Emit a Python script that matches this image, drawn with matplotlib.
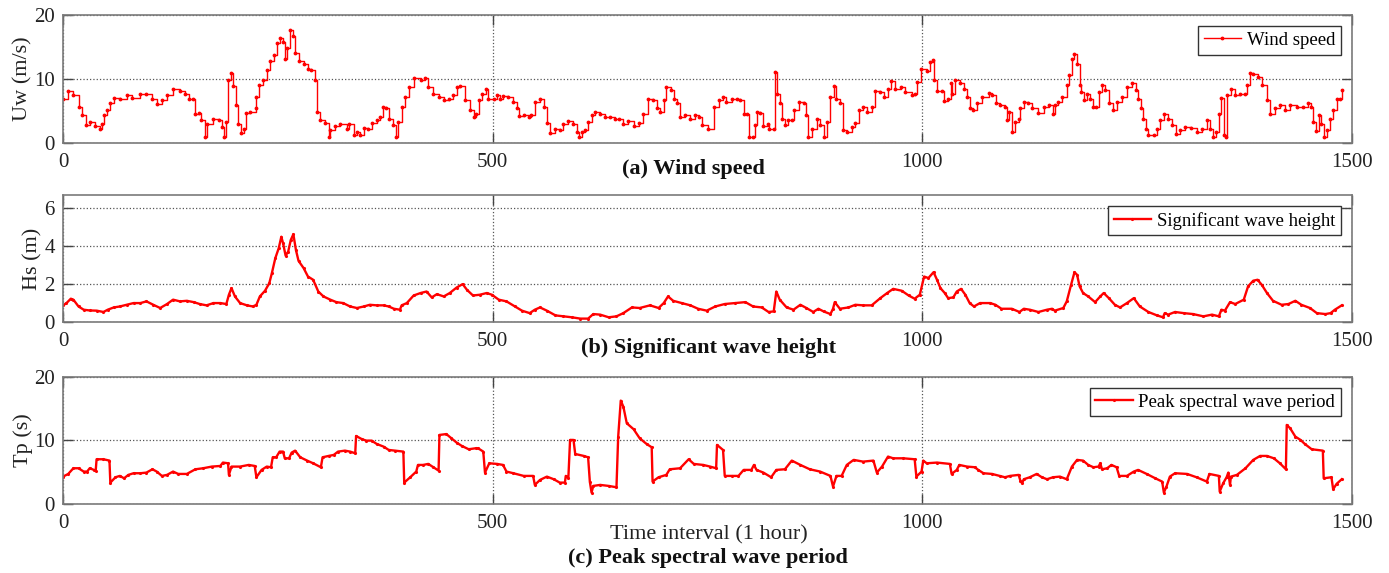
import matplotlib
matplotlib.use('Agg')
import matplotlib.pyplot as plt

plt.rcParams['font.family'] = ['Liberation Serif', 'DejaVu Serif']

# Wind speed (m/s)
wind_t = [0, 6, 12, 18, 22, 27, 31, 37, 43, 45, 48, 51, 55, 59, 66, 74, 80, 90, 97, 103, 109, 115, 121, 128, 136, 142,
          146, 151, 154, 158, 161, 165, 168, 175, 181, 185, 187, 190, 192, 195, 198, 201, 204, 207, 210, 213, 218, 224,
          225, 228, 233, 237, 241, 245, 249, 253, 256, 258, 261, 264, 267, 270, 274, 280, 285, 289, 293, 296, 299, 305,
          309, 311, 317, 322, 330, 333, 338, 342, 346, 350, 355, 359, 365, 369, 372, 376, 379, 384, 387, 390, 394, 398,
          402, 408, 416, 421, 425, 431, 437, 443, 449, 454, 459,
          462, 468, 474, 478, 481, 484, 488, 492, 495, 501, 505, 508, 512, 518, 524, 528, 531, 536, 542, 545, 549, 555,
          560, 563, 567, 573, 578, 582, 588, 593, 598, 600, 604, 607, 611, 615, 619, 625, 631, 637, 642, 647, 652, 658,
          664, 670, 675, 681, 687, 691, 695, 699, 702, 707, 711, 714, 718, 724, 730, 735, 740, 744, 751, 757, 763, 768,
          772, 778, 784, 788, 792, 796, 798, 803, 805, 808, 811, 815, 820, 822, 827, 829, 831, 834, 837, 840, 844, 848,
          851, 856, 862, 865, 867, 871, 877, 881, 885, 889, 893, 897, 900, 904, 908, 912, 918, 922, 926, 931, 936, 941,
          945, 951, 955, 960, 963, 968, 975, 980, 988, 991, 994, 998,
          1005, 1009, 1012, 1014, 1017, 1023, 1025, 1030, 1033, 1035, 1038, 1044, 1048, 1052, 1055, 1059, 1063, 1069,
          1077, 1081, 1086, 1090, 1096, 1099, 1101, 1104, 1108, 1112, 1114, 1118, 1123, 1127, 1135, 1141, 1147, 1152,
          1154, 1158, 1163, 1168, 1171, 1174, 1177, 1180, 1183, 1185, 1188, 1191, 1195, 1198, 1202, 1205, 1209, 1213,
          1217, 1222, 1226, 1232, 1238, 1244, 1248, 1251, 1254, 1257, 1260, 1263, 1269, 1273, 1277, 1281, 1286, 1290,
          1295, 1300, 1306, 1313, 1319, 1325, 1331, 1335, 1338, 1342, 1345, 1348, 1351, 1353, 1355, 1359, 1364, 1370,
          1376, 1378, 1381, 1385, 1390, 1395, 1401, 1405, 1410, 1416, 1422, 1428, 1436, 1443, 1449, 1452, 1455, 1458,
          1461, 1464, 1467, 1471, 1474, 1478, 1482, 1486, 1488]
wind_v = [6.9, 8.2, 7.5, 5.6, 4.3, 2.8, 3.3, 2.6, 2.2, 2.9, 4.3, 5.1, 6.2, 7.1, 6.9, 7.5, 7.1, 7.6, 7.7, 6.8, 6.1, 6.7,
          7.5, 8.5, 8.1, 7.7, 6.9, 6.8, 4.6, 4.7, 3.6, 1.0, 3.0, 3.8, 3.6, 2.5, 1.0, 3.3, 9.8, 11.0, 8.9, 5.9, 3.0, 1.5,
          2.2, 4.7, 4.8, 5.4, 7.2, 9.0, 9.9, 11.4, 12.8, 13.7, 15.6, 16.4, 15.8, 13.2, 14.8, 17.6, 16.7, 14.0, 12.8,
          12.4, 11.6, 11.4, 9.8, 4.9, 3.6, 3.1, 1.0, 2.0, 2.6, 2.9, 2.2, 3.0, 1.2, 1.7, 1.2, 2.4, 2.2, 3.1, 3.6, 4.1,
          5.7, 5.4, 3.8, 2.8, 1.0, 3.3, 5.6, 7.2, 8.8, 10.1, 9.9, 10.1, 8.8, 7.7, 7.2, 6.7, 6.9, 7.5, 8.7,
          8.9, 6.7, 5.1, 4.0, 4.6, 6.7, 7.7, 8.4, 6.8, 6.9, 7.5, 6.8, 7.3, 7.2, 6.4, 5.4, 4.2, 4.3, 4.0, 4.3, 6.4, 6.8,
          5.6, 3.1, 1.6, 2.2, 2.1, 2.9, 3.4, 2.9, 1.7, 1.0, 1.7, 2.0, 3.3, 4.3, 4.9, 4.6, 4.1, 4.1, 3.8, 3.8, 3.0, 3.4,
          2.6, 3.1, 4.6, 6.9, 6.7, 5.5, 4.9, 6.7, 8.8, 8.3, 6.9, 6.2, 4.1, 4.3, 3.8, 4.3, 4.1, 2.8, 2.2, 5.6, 6.7, 7.2,
          6.4, 6.9, 6.9, 6.7, 4.6, 4.5, 1.0, 1.0, 2.8, 4.9, 4.7, 2.6, 2.9, 2.2, 2.2, 11.1, 7.7, 6.2, 3.8, 2.8, 3.6, 3.6,
          5.1, 6.4, 6.2, 4.3, 1.0, 2.2, 3.7, 2.8, 1.0, 3.3, 7.2, 8.9, 6.9, 6.2, 2.0, 1.7, 2.5, 3.1, 5.1, 5.6, 4.9, 5.7,
          8.1, 8.0, 7.2, 8.4, 9.7, 8.4, 8.8, 8.0, 7.5, 7.6, 9.6, 11.5,
          11.3, 12.7, 13.0, 9.9, 8.1, 8.1, 6.6, 6.8, 9.3, 7.7, 9.8, 9.3, 8.5, 7.2, 5.4, 5.1, 6.3, 7.2,
          7.8, 7.5, 6.2, 5.9, 5.7, 3.6, 4.9, 1.7, 3.3, 3.8, 5.4, 6.4, 6.3, 5.4, 4.7, 5.7, 5.9, 4.5,
          5.9, 6.4, 7.2, 9.0, 10.6, 13.2, 13.9, 12.4, 9.0, 8.0, 6.7, 7.7, 6.9, 5.6, 5.6, 8.0, 9.0, 8.3,
          6.2, 5.1, 6.4, 7.2, 8.7, 9.3, 8.3, 6.9, 5.5, 3.8, 2.2, 1.2, 1.2, 2.2, 3.6, 4.6, 3.8, 2.8,
          1.4, 2.0, 2.5, 2.4, 1.7, 2.2, 3.6, 2.2, 1.0, 1.7, 4.6, 7.1, 1.2, 1.0, 7.5, 8.4, 7.5, 7.6,
          7.7, 9.0, 10.9, 10.8, 10.3, 9.0, 6.7, 4.6, 5.4, 5.9, 5.1, 5.9, 5.7, 5.6, 6.3, 5.6, 3.3, 1.9,
          4.3, 3.0, 1.0, 2.0, 3.8, 5.1, 6.8, 6.8, 8.3]

# Significant wave height (m)
hs_t = [0, 4, 9, 12, 18, 24, 31, 39, 47, 52, 59, 66, 74, 82, 90, 97, 105, 113, 121, 128, 136, 144, 152, 159, 167, 175,
        183, 190, 193, 196, 200, 206, 214, 221, 225, 229, 235, 240, 243, 247, 251, 254, 256, 259, 262, 265, 268, 271,
        274, 280, 285, 291, 297, 303, 311, 318, 326, 334, 342, 350, 357, 365, 373, 379, 385, 392, 394, 400, 408, 416,
        423, 429, 435, 443, 450, 458, 465, 470, 477,
        485, 493, 499, 507, 516, 526, 534, 543, 549, 555, 563, 573, 582, 592, 602, 611, 617, 625, 635, 644, 652, 662,
        671, 683, 693, 699, 704, 710, 720, 730, 739, 749, 759, 770, 782, 794, 803, 813, 821, 827, 830, 834, 842, 850,
        858, 865, 873, 879, 885, 893, 896, 898, 904, 914, 922, 931, 941, 951, 959, 966, 976, 984, 991, 997,
        1002, 1007, 1013, 1017, 1021, 1026, 1030, 1036, 1040, 1045, 1050, 1055, 1060, 1067, 1079, 1085, 1092, 1104,
        1113, 1118, 1125, 1135, 1145, 1151, 1154, 1164, 1168, 1173, 1177, 1180, 1183, 1187, 1193, 1201, 1207, 1211,
        1217, 1224, 1230, 1238, 1246, 1253, 1263, 1273, 1280, 1282, 1286, 1294, 1304, 1315, 1327, 1337, 1345, 1348,
        1352, 1358, 1364, 1374, 1379, 1385, 1390, 1395, 1401, 1408, 1418, 1426, 1434, 1441, 1451, 1459, 1469, 1475,
        1480, 1488]
hs_v = [0.88, 1.0, 1.23, 1.18, 0.82, 0.65, 0.61, 0.6, 0.53, 0.65, 0.77, 0.82, 0.91, 1.0, 1.0, 1.09, 0.91, 0.74, 0.95,
        1.18, 1.09, 1.12, 1.05, 0.95, 0.88, 1.0, 1.0, 0.95, 1.44, 1.79, 1.35, 1.0, 0.88, 0.82, 0.91, 1.35, 1.65, 2.05,
        2.58, 3.37, 3.9, 4.5, 4.16, 3.5, 3.72, 4.33, 4.63, 3.8, 3.23, 2.84, 2.4, 2.23, 1.61, 1.35, 1.18, 1.05, 1.0,
        0.82, 0.74, 0.82, 0.91, 0.88, 0.88, 0.82, 0.7, 0.65, 0.88, 1.0, 1.4, 1.53, 1.61, 1.3, 1.47, 1.35, 1.53, 1.82,
        2.0, 1.7, 1.4,
        1.44, 1.53, 1.44, 1.18, 1.09, 0.82, 0.6, 0.47, 0.65, 0.77, 0.6, 0.35, 0.3, 0.25, 0.18, 0.18, 0.42, 0.39, 0.25,
        0.3, 0.47, 0.77, 0.74, 0.88, 0.74, 1.0, 1.35, 1.12, 1.0, 0.88, 0.7, 0.6, 0.82, 0.95, 1.0, 1.05, 0.82, 0.77,
        0.53, 0.56, 1.61, 1.18, 0.77, 0.65, 0.91, 0.74, 0.53, 0.7, 0.56, 0.42, 0.7, 1.05, 0.7, 0.77, 0.91, 0.88, 0.88,
        1.26, 1.53, 1.75, 1.65, 1.4, 1.23, 1.44,
        2.4, 2.32, 2.63, 2.23, 1.79, 1.53, 1.26, 1.3, 1.61, 1.75, 1.44, 1.0, 0.82, 1.0, 1.0, 0.91, 0.7, 0.7,
        0.53, 0.7, 0.65, 0.53, 0.65, 0.7, 0.6, 0.74, 1.09, 1.96, 2.63, 2.49, 1.88, 1.53, 1.35, 1.05, 1.35, 1.53,
        1.26, 0.91, 0.77, 1.0, 1.26, 0.82, 0.53, 0.35, 0.25, 0.47, 0.39, 0.53, 0.47, 0.42, 0.3, 0.39, 0.3, 0.65,
        0.6, 1.05, 0.95, 1.18, 1.88, 2.18, 2.23, 1.96, 1.53, 1.12, 0.91, 0.95, 1.12, 0.91, 0.74, 0.47, 0.42, 0.47,
        0.65, 0.88]

# Peak spectral wave period (s)
tp_t = [0, 6, 12, 18, 24, 28, 31, 36, 38, 39, 47, 54, 55, 61, 66, 71, 76, 82, 90, 97, 104, 109, 115, 121, 128, 134,
        144, 154, 163, 173, 183, 186, 192, 193, 196, 206, 216, 223, 225, 231, 237, 242, 244, 248, 252, 256, 258, 263,
        266, 270, 276, 284, 291, 300, 302, 309, 315, 320, 328, 334, 340, 341, 348, 353, 359, 365, 373, 379, 386, 396,
        397, 404, 411, 413, 419, 425, 431, 437, 438, 446, 452, 458, 464, 472, 480,
        483, 489, 491, 496, 505, 512, 516, 524, 536, 547, 549, 555, 563, 571, 578, 584, 585, 588, 590, 594, 596, 606,
        611, 613, 615, 617, 625, 635, 644, 646, 649, 652, 656, 664, 671, 679, 685, 686, 693, 702, 706, 718, 728, 734,
        745, 753, 760, 761, 768, 770, 778, 786, 792, 801, 804, 807, 815, 824, 830, 840, 848, 858, 869, 881, 893, 896,
        900, 906, 912, 920, 931, 943, 947, 953, 960, 966, 978, 991, 993, 999,
        1001, 1005, 1017, 1032, 1034, 1040, 1043, 1052, 1061, 1065, 1071, 1081, 1090, 1096, 1102, 1112, 1114, 1116,
        1118, 1125, 1133, 1139, 1145, 1152, 1160, 1168, 1174, 1180, 1187, 1193, 1199, 1205, 1207, 1209, 1215, 1220,
        1226, 1229, 1238, 1246, 1251, 1261, 1271, 1279, 1281, 1284, 1288, 1294, 1308, 1319, 1331, 1334, 1345, 1346,
        1350, 1354, 1356, 1358, 1359, 1366, 1376, 1385, 1393, 1401, 1409, 1416, 1423, 1424, 1428, 1434, 1440, 1445,
        1453, 1466, 1467, 1476, 1478, 1482, 1488]
tp_v = [4.33, 4.75, 5.64, 5.64, 5.12, 5.12, 5.64, 5.38, 5.27, 7.05, 7.05, 6.84, 3.39, 4.23, 4.44, 4.07, 4.6, 4.86,
        4.86, 4.96, 5.48, 5.12, 4.44, 4.6, 5.12, 4.75, 4.75, 5.48, 5.64, 5.9, 6.0, 6.53, 6.42, 4.6, 5.9, 5.9, 6.16,
        6.0, 4.23, 5.38, 5.9, 5.8, 7.36, 7.36, 8.25, 8.25, 7.2, 7.2, 8.09, 8.4, 7.36, 6.84, 6.42, 5.8, 7.36, 7.57,
        7.73, 8.25, 8.4, 8.25, 7.99, 10.7, 10.18, 9.97, 9.97, 9.45, 9.03, 8.51, 8.4, 8.25, 3.39, 4.23, 5.12, 6.16,
        6.16, 6.32, 5.8, 5.27, 10.86, 11.0, 10.34, 9.66, 9.14, 8.62, 8.77,
        8.77, 8.25, 4.96, 6.42, 6.32, 6.16, 5.12, 4.86, 4.44, 4.44, 3.03, 3.81, 4.33, 3.92, 3.39, 3.39, 4.44, 4.07,
        10.08, 10.08, 7.88, 7.57, 7.36, 3.55, 1.83, 2.87, 3.03, 2.87, 2.66, 10.6, 16.24, 15.3, 12.69, 11.75, 10.34,
        9.45, 8.93, 3.55, 4.23, 4.6, 5.48, 5.64, 7.05, 6.32, 6.16, 5.9, 5.64, 9.3, 8.51, 4.44, 4.44, 4.44, 5.38,
        5.38, 6.16, 5.38, 4.96, 4.23, 5.38, 5.48, 6.84, 6.16, 5.48, 5.12, 4.44, 2.77, 4.44, 4.44, 6.16, 6.95, 6.68,
        6.84, 4.96, 5.9, 7.47, 7.2, 7.2, 7.05, 4.33, 5.12,
        6.84, 6.42, 6.53, 6.32, 4.75, 5.38, 6.16, 5.9, 5.8, 5.38, 4.86, 4.75, 4.44, 4.23, 4.44, 4.6, 3.71, 3.29,
        3.92, 4.23, 4.75, 4.23, 3.92, 4.23, 4.33, 3.92, 5.9, 6.95, 6.84, 6.16, 5.8, 5.9, 6.42, 5.48, 5.64, 6.16,
        5.8, 4.44, 4.44, 5.12, 5.38, 4.75, 4.07, 3.55, 1.83, 2.77, 4.33, 4.86, 4.75, 4.23, 3.55, 4.75, 4.44, 1.98,
        3.29, 4.23, 4.96, 3.03, 4.33, 4.6, 5.64, 6.95, 7.57, 7.57, 7.2, 6.42, 5.48, 12.43, 11.9, 10.6, 10.08, 9.45,
        8.62, 8.4, 4.07, 4.23, 2.35, 3.19, 3.92]

x_ticks = [0, 500, 1000, 1500]
panels = [
    dict(t=wind_t, v=wind_v, ylabel='Uw (m/s)', ylim=(0, 20), yticks=[0, 10, 20],
         label='Wind speed', title='(a) Wind speed', steps=True),
    dict(t=hs_t, v=hs_v, ylabel='Hs (m)', ylim=(0, 6.7), yticks=[0, 2, 4, 6],
         label='Significant wave height', title='(b) Significant wave height', steps=False),
    dict(t=tp_t, v=tp_v, ylabel='Tp (s)', ylim=(0, 20), yticks=[0, 10, 20],
         label='Peak spectral wave period', title='(c) Peak spectral wave period', steps=False),
]

fig = plt.figure(figsize=(13.89, 5.73), dpi=100)
boxes = [[0.0454, 0.7504, 0.928, 0.2234],
         [0.0454, 0.4380, 0.928, 0.2216],
         [0.0454, 0.1200, 0.928, 0.2227]]
title_pos = [(0.499, 0.705), (0.51, 0.393), (0.51, 0.027)]

for p, box, (tx, ty) in zip(panels, boxes, title_pos):
    ax = fig.add_axes(box)
    if p['steps']:
        ax.plot(p['t'], p['v'], color='red', lw=1.0, marker='.', ms=3.5,
                drawstyle='steps-post', label=p['label'])
    else:
        ax.plot(p['t'], p['v'], color='red', lw=1.7, marker='.', ms=2.5, label=p['label'])
    ax.set_xlim(0, 1500)
    ax.set_ylim(*p['ylim'])
    ax.set_xticks(x_ticks)
    ax.set_yticks(p['yticks'])
    ax.grid(True, linestyle=':', color='#555555', linewidth=0.9)
    ax.tick_params(direction='in', length=7, width=1, top=True, right=True,
                   colors='#444444', labelcolor='#222222', labelsize=15)
    ax.tick_params(axis='x', pad=7)
    ax.tick_params(axis='y', pad=6)
    for s in ax.spines.values():
        s.set_color('#7a7a7a')
        s.set_linewidth(1.2)
    ax.set_ylabel(p['ylabel'], fontsize=16, color='#222222', labelpad=1)
    leg = ax.legend(loc='upper right', fontsize=13.5, fancybox=False, framealpha=1,
                    edgecolor='#333333', handlelength=2.0, borderaxespad=0.6,
                    borderpad=0.3, handletextpad=0.3)
    leg.get_frame().set_linewidth(1.0)
    fig.text(tx, ty, p['title'], ha='center', va='center', fontsize=16,
             fontweight='bold', color='#111111')

fig.text(0.51, 0.066, 'Time interval (1 hour)', ha='center', va='center', fontsize=16, color='#222222')

fig.savefig('out.png', dpi=100)
